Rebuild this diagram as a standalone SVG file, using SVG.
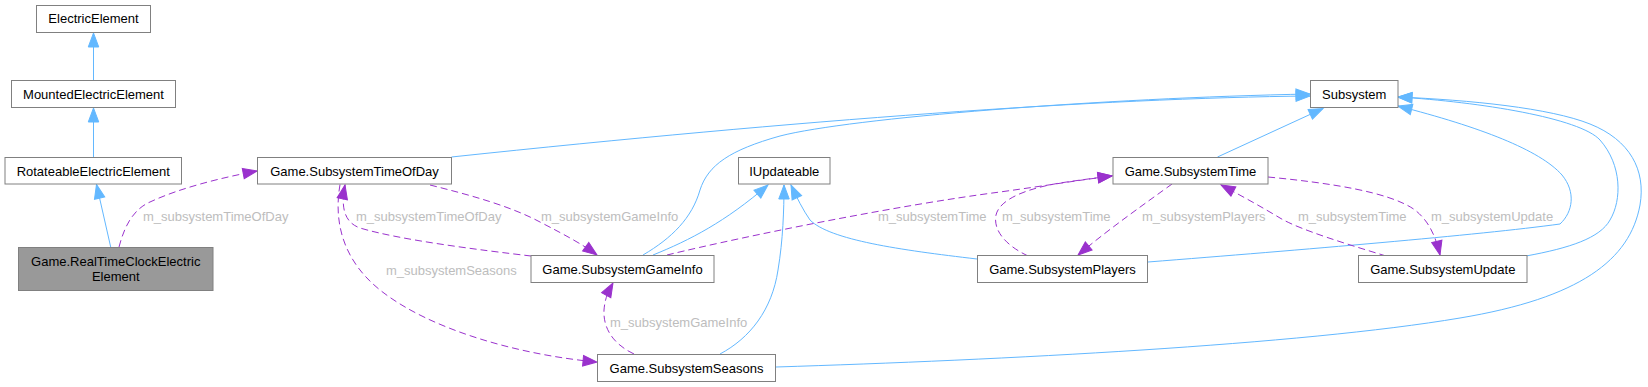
<svg xmlns="http://www.w3.org/2000/svg" width="1648" height="387" viewBox="0 0 1648 387">
<style>
.n rect{fill:#ffffff;stroke:#808080;stroke-width:1}
.n text{font-family:"Liberation Sans",Arial,sans-serif;font-size:13px;fill:#000;text-anchor:middle}
.hl rect{fill:#999999}
.e{fill:none;stroke-width:1}
.b{stroke:#63b8ff;marker-end:url(#ab)}
.p{stroke:#9a32cd;stroke-dasharray:7,4;marker-end:url(#ap)}
.l{font-family:"Liberation Sans",Arial,sans-serif;font-size:13px;fill:#bdbdbd}
</style>
<defs>
<marker id="ab" markerWidth="16" markerHeight="12" refX="14" refY="5.25" orient="auto" markerUnits="userSpaceOnUse" overflow="visible"><path d="M0,0 L14,5.25 L0,10.5 z" fill="#63b8ff" stroke="#63b8ff" stroke-width="1"/></marker>
<marker id="ap" markerWidth="16" markerHeight="12" refX="14" refY="5.25" orient="auto" markerUnits="userSpaceOnUse" overflow="visible"><path d="M0,0 L14,5.25 L0,10.5 z" fill="#9a32cd" stroke="#9a32cd" stroke-width="1"/></marker>
</defs>
<rect width="1648" height="387" fill="#ffffff"/>
<g id="connectors">
<path class="e b" d="M93.5,80 L93.5,33"/>
<path class="e b" d="M93.5,157 L93.5,108"/>
<path class="e b" d="M110.7,247 L96.5,184.5"/>
<path class="e b" d="M451.5,157 C800,120 1100,98 1310,96"/>
<path class="e b" d="M643,255 C672,238 692,218 700,190 C708,165 730,150 780,136 C850,118 1100,98 1310,94"/>
<path class="e b" d="M653,255 C690,240 725,222 768,185"/>
<path class="e b" d="M720,354 C750,338 772,310 778,270 C783,240 784,210 784,185"/>
<path class="e b" d="M977,259 C900,250 830,240 810,220 C803,210 797,198 791,185"/>
<path class="e b" d="M1217.5,157 L1323,108.5"/>
<path class="e b" d="M1148,262 C1300,250 1480,235 1560,224 C1573,212 1576,192 1562,175 C1540,150 1480,127 1398,106"/>
<path class="e b" d="M1526,256 C1570,248 1600,238 1610,220 C1622,200 1622,165 1600,140 C1580,118 1480,102 1398,97"/>
<path class="e b" d="M776,367 C1000,360 1300,345 1460,318 C1580,298 1630,260 1640,205 C1646,170 1630,140 1590,124 C1550,108 1470,100 1398,97"/>
<path class="e p" d="M119,247 C124,228 132,210 150,202 C180,188 220,178 257,171"/>
<path class="e p" d="M430,185 C470,195 510,206 540,222 C565,235 582,244 597,255"/>
<path class="e p" d="M531,256 C480,250 400,240 360,228 C343,222 341,205 345,185"/>
<path class="e p" d="M340,184.5 C333,225 345,262 380,290 C430,330 520,355 597,362"/>
<path class="e p" d="M634,354 C615,345 603,330 604,310 C605,298 608,292 613,283"/>
<path class="e p" d="M667,255 C750,235 900,205 1000,192 C1050,185 1080,180 1112,176"/>
<path class="e p" d="M1028,256 C1005,245 993,230 996,215 C1000,198 1030,188 1060,183 C1080,180 1095,178 1112,176"/>
<path class="e p" d="M1172,184 C1150,200 1110,228 1078,255"/>
<path class="e p" d="M1386,256 C1350,245 1300,230 1280,218 C1260,206 1240,195 1221,185"/>
<path class="e p" d="M1268,177 C1330,183 1390,192 1415,210 C1430,222 1436,238 1440,255"/>
<text class="l" x="143" y="220.5">m_subsystemTimeOfDay</text>
<text class="l" x="356" y="220.5">m_subsystemTimeOfDay</text>
<text class="l" x="541" y="220.5">m_subsystemGameInfo</text>
<text class="l" x="386" y="274.5">m_subsystemSeasons</text>
<text class="l" x="610" y="327">m_subsystemGameInfo</text>
<text class="l" x="878" y="220.5">m_subsystemTime</text>
<text class="l" x="1002" y="220.5">m_subsystemTime</text>
<text class="l" x="1142" y="220.5">m_subsystemPlayers</text>
<text class="l" x="1298" y="220.5">m_subsystemTime</text>
<text class="l" x="1431" y="220.5">m_subsystemUpdate</text>
</g>
<g id="ElectricElement" class="n"><rect x="36.5" y="5.5" width="114" height="27"/><text x="93.5" y="23.3">ElectricElement</text></g>
<g id="MountedElectricElement" class="n"><rect x="11.5" y="80.5" width="164" height="27"/><text x="93.5" y="98.5">MountedElectricElement</text></g>
<g id="RotateableElectricElement" class="n"><rect x="5" y="157.5" width="176.5" height="26.5"/><text x="93.25" y="175.5">RotateableElectricElement</text></g>
<g id="RealTimeClockElectricElement" class="n hl"><rect x="18.5" y="247.5" width="194.5" height="43"/><text x="115.75" y="265.5">Game.RealTimeClockElectric</text><text x="115.75" y="281">Element</text></g>
<g id="SubsystemTimeOfDay" class="n"><rect x="257.5" y="157.5" width="194" height="26.5"/><text x="354.5" y="175.5">Game.SubsystemTimeOfDay</text></g>
<g id="SubsystemGameInfo" class="n"><rect x="531" y="255.5" width="183" height="27"/><text x="622.5" y="273.5">Game.SubsystemGameInfo</text></g>
<g id="IUpdateable" class="n"><rect x="738.5" y="157.5" width="91.5" height="26.5"/><text x="784.25" y="175.5">IUpdateable</text></g>
<g id="SubsystemSeasons" class="n"><rect x="597.5" y="354.5" width="178" height="27"/><text x="686.5" y="372.5">Game.SubsystemSeasons</text></g>
<g id="SubsystemTime" class="n"><rect x="1113" y="157.5" width="155" height="26.5"/><text x="1190.5" y="175.5">Game.SubsystemTime</text></g>
<g id="SubsystemPlayers" class="n"><rect x="977.5" y="255.5" width="170" height="27"/><text x="1062.5" y="273.5">Game.SubsystemPlayers</text></g>
<g id="Subsystem" class="n"><rect x="1310.5" y="80.5" width="87.5" height="27"/><text x="1354.25" y="98.5">Subsystem</text></g>
<g id="SubsystemUpdate" class="n"><rect x="1358.5" y="255.5" width="168.5" height="27"/><text x="1442.75" y="273.5">Game.SubsystemUpdate</text></g>
</svg>
